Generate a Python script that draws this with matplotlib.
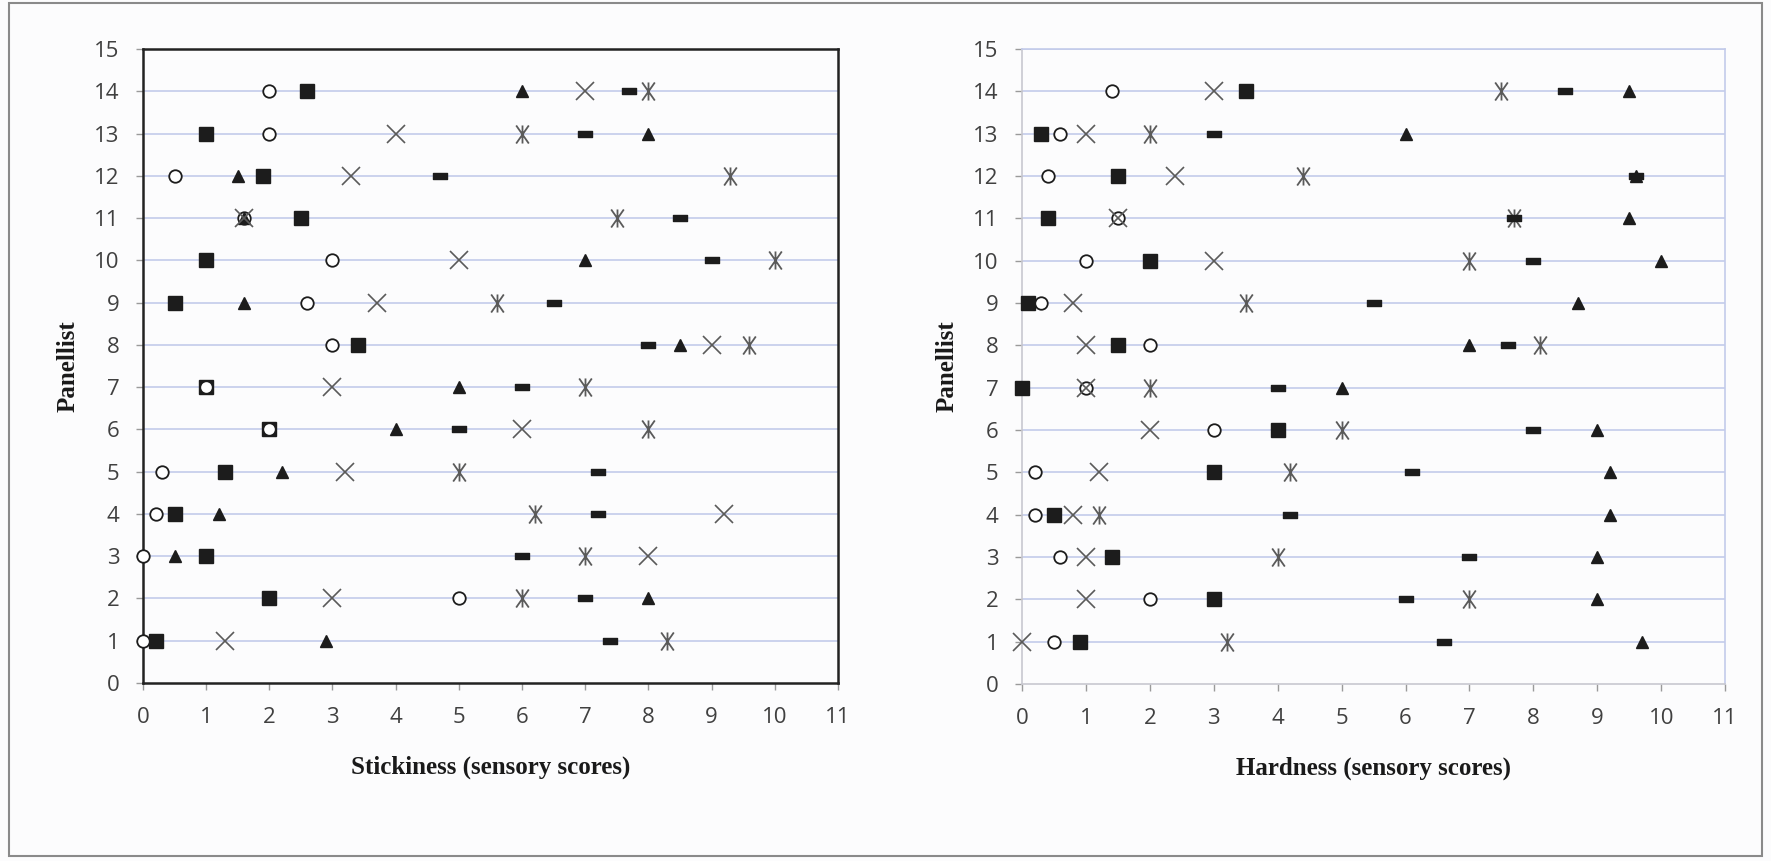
import matplotlib
matplotlib.use('Agg')
import matplotlib.pyplot as plt
from matplotlib.path import Path
from matplotlib.patches import Rectangle

# panellists 1..14
panellist = list(range(1, 15))

# stickiness scores per sample (index 0 -> panellist 1)
stick_square = [0.2, 2, 1, 0.5, 1.3, 2, 1, 3.4, 0.5, 1, 2.5, 1.9, 1, 2.6]
stick_circle = [0, 5, 0, 0.2, 0.3, 2, 1, 3, 2.6, 3, 1.6, 0.5, 2, 2]
stick_triangle = [2.9, 8, 0.5, 1.2, 2.2, 4, 5, 8.5, 1.6, 7, 1.6, 1.5, 8, 6]
stick_cross = [1.3, 3, 8, 9.2, 3.2, 6, 3, 9, 3.7, 5, 1.6, 3.3, 4, 7]
stick_star = [8.3, 6, 7, 6.2, 5, 8, 7, 9.6, 5.6, 10, 7.5, 9.3, 6, 8]
stick_dash = [7.4, 7, 6, 7.2, 7.2, 5, 6, 8, 6.5, 9, 8.5, 4.7, 7, 7.7]

# hardness scores per sample
hard_square = [0.9, 3, 1.4, 0.5, 3, 4, 0, 1.5, 0.1, 2, 0.4, 1.5, 0.3, 3.5]
hard_circle = [0.5, 2, 0.6, 0.2, 0.2, 3, 1, 2, 0.3, 1, 1.5, 0.4, 0.6, 1.4]
hard_triangle = [9.7, 9, 9, 9.2, 9.2, 9, 5, 7, 8.7, 10, 9.5, 9.6, 6, 9.5]
hard_cross = [0, 1, 1, 0.8, 1.2, 2, 1, 1, 0.8, 3, 1.5, 2.4, 1, 3]
hard_star = [3.2, 7, 4, 1.2, 4.2, 5, 2, 8.1, 3.5, 7, 7.7, 4.4, 2, 7.5]
hard_dash = [6.6, 6, 7, 4.2, 6.1, 8, 4, 7.6, 5.5, 8, 7.7, 9.6, 3, 8.5]

# marker shapes
star_path = Path([(-0.35, -0.5), (0.35, 0.5), (-0.35, 0.5), (0.35, -0.5), (0, -0.5), (0, 0.5)],
                 [Path.MOVETO, Path.LINETO, Path.MOVETO, Path.LINETO, Path.MOVETO, Path.LINETO])
dash_path = Path([(-0.5, -0.2), (0.5, -0.2), (0.5, 0.2), (-0.5, 0.2), (-0.5, -0.2)],
                 [Path.MOVETO, Path.LINETO, Path.LINETO, Path.LINETO, Path.CLOSEPOLY])

dark = '#1c1c1c'
grey = '#5a5a5a'
grid_c = '#c3cbea'

tick_font = {'family': ['Open Sans', 'DejaVu Sans'], 'size': 16, 'color': '#404040'}
title_font = {'family': ['Liberation Serif'], 'size': 18, 'weight': 'bold', 'color': '#1a1a1a'}

fig = plt.figure(figsize=(17.71, 8.61), dpi=100)
fig.patch.set_facecolor('#fcfcfd')
fig.patches.append(Rectangle((0.005, 0.006), 0.99, 0.99, transform=fig.transFigure,
                             fill=False, edgecolor='#8a8a8a', linewidth=1.5))

ax1 = fig.add_axes([0.0807, 0.2067, 0.3924, 0.7364])
ax2 = fig.add_axes([0.5771, 0.2055, 0.3970, 0.7376])


def draw(ax, sq, ci, tr, cr, st, da, xlabel):
    y = panellist
    kw = dict(ls='none', clip_on=False)
    ax.plot(sq, y, 's', ms=10, color=dark, zorder=3, **kw)
    ax.plot(ci, y, 'o', ms=9, mfc='white', mec=dark, mew=1.3, zorder=4, **kw)
    ax.plot(tr, y, '^', ms=9, color=dark, zorder=4.5, **kw)
    ax.plot(cr, y, 'x', ms=13, mec=grey, mew=1.2, zorder=5, **kw)
    ax.plot(st, y, marker=star_path, ms=13, mec=grey, mew=1.3, zorder=5, **kw)
    ax.plot(da, y, marker=dash_path, ms=10, color=dark, zorder=6, **kw)

    ax.set_xlim(0, 11)
    ax.set_ylim(0, 15)
    ax.set_xticks(range(0, 12))
    ax.set_yticks(range(0, 16))
    for yy in range(1, 16):
        ax.axhline(yy, color=grid_c, lw=1.2, zorder=1)
    ax.tick_params(axis='both', length=5, width=1, color='#9a9a9a', pad=12)
    for lab in ax.get_xticklabels() + ax.get_yticklabels():
        lab.set_fontfamily(tick_font['family'])
        lab.set_fontsize(tick_font['size'])
        lab.set_color(tick_font['color'])
    ax.set_xlabel(xlabel, fontdict=title_font, labelpad=20)
    ax.set_ylabel('Panellist', fontdict=title_font, labelpad=10)
    ax.set_facecolor('none')


draw(ax1, stick_square, stick_circle, stick_triangle, stick_cross, stick_star, stick_dash,
     'Stickiness (sensory scores)')
draw(ax2, hard_square, hard_circle, hard_triangle, hard_cross, hard_star, hard_dash,
     'Hardness (sensory scores)')

# left chart has a black frame
for s in ax1.spines.values():
    s.set_color('#222222')
    s.set_linewidth(1.8)

# right chart: grey axes, light blue top/right edges
ax2.spines['left'].set_color('#c8c8d0')
ax2.spines['bottom'].set_color('#c8c8d0')
ax2.spines['top'].set_color(grid_c)
ax2.spines['right'].set_color(grid_c)
for s in ax2.spines.values():
    s.set_linewidth(1.2)

fig.savefig('out.png', dpi=100, facecolor=fig.get_facecolor())
